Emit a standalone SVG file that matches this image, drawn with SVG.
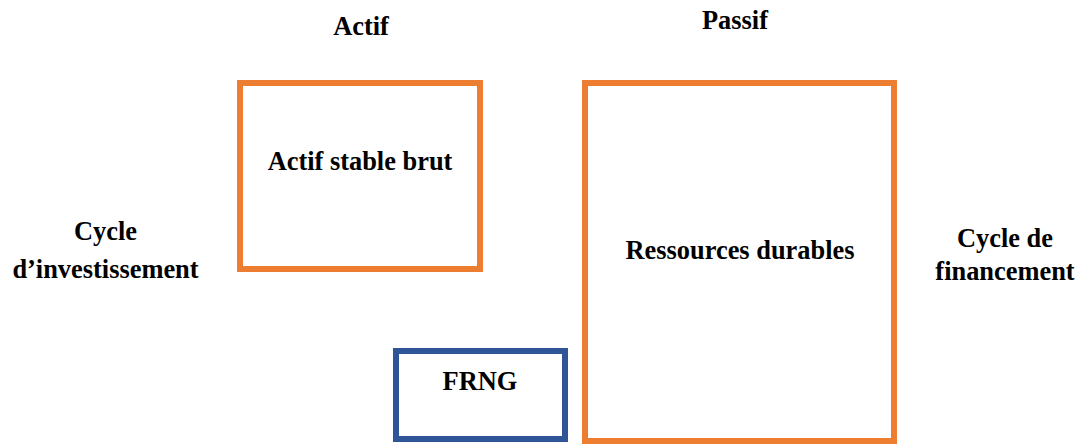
<svg xmlns="http://www.w3.org/2000/svg" width="1080" height="444" viewBox="0 0 1080 444">
<style>
.t{font-family:"Liberation Serif","Times New Roman",serif;font-weight:bold;font-size:26.4px;fill:#000;text-anchor:middle}
.o{fill:#fff;stroke:#ED7D31;stroke-width:6}
.b{fill:#fff;stroke:#2F5597;stroke-width:6}
</style>
<rect width="1080" height="444" fill="#fff"/>
<g id="labels">
<text class="t" x="361" y="35">Actif</text>
<text class="t" x="735" y="29">Passif</text>
<text class="t" x="105.5" y="240">Cycle</text>
<text class="t" x="105.5" y="278">d’investissement</text>
<text class="t" x="1005" y="247">Cycle de</text>
<text class="t" x="1005" y="280">financement</text>
</g>
<g id="actif-stable-brut">
<rect class="o" x="240" y="83" width="240" height="186"/>
<text class="t" x="360" y="170">Actif stable brut</text>
</g>
<g id="ressources-durables">
<rect class="o" x="585" y="83" width="309" height="358"/>
<text class="t" x="740" y="259">Ressources durables</text>
</g>
<g id="frng">
<rect class="b" x="396" y="351" width="169" height="88"/>
<text class="t" x="480" y="390">FRNG</text>
</g>
<g id="connectors"/>
</svg>
